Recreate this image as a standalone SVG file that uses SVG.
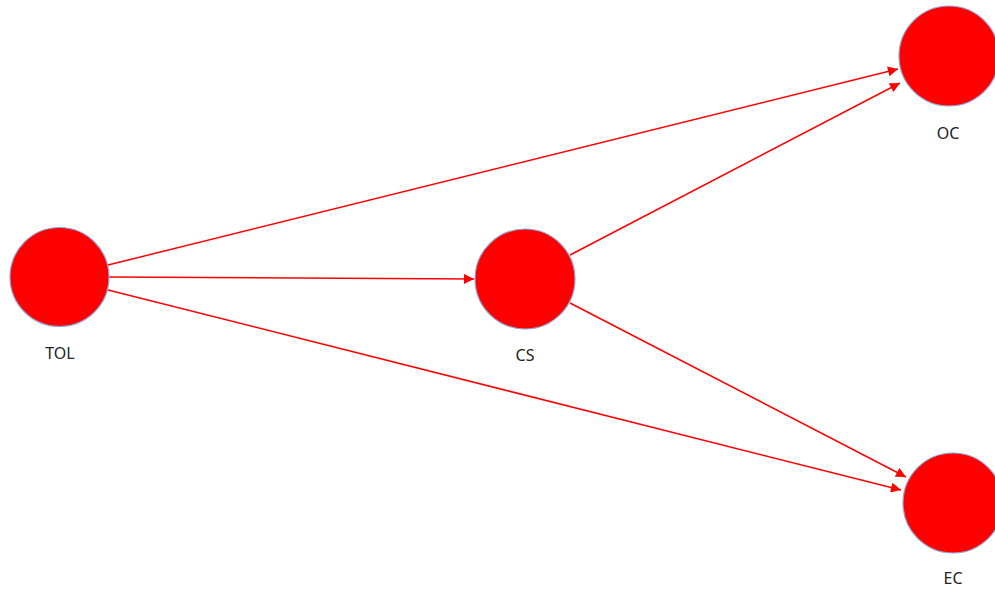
<svg xmlns="http://www.w3.org/2000/svg" width="995" height="590" viewBox="0 0 995 590">
<style>
.node{fill:#ff0000;stroke:#8ea6d6;stroke-width:1.2}
.lbl{font-family:"Noto Sans","Open Sans","Liberation Sans",sans-serif;font-size:16px;fill:#222;text-anchor:middle}
.edge{stroke:#ff0000;stroke-width:1.5;fill:none;marker-end:url(#arr)}
</style>
<defs>
<marker id="arr" viewBox="0 0 10 10" refX="10" refY="5" markerWidth="11" markerHeight="10" markerUnits="userSpaceOnUse" orient="auto">
<path d="M0,0 L10,5 L0,10 z" fill="#ff0000"/>
</marker>
</defs>
<rect width="995" height="590" fill="#ffffff"/>
<g id="connectors">
<line class="edge" x1="108" y1="265" x2="898" y2="69"/>
<line class="edge" x1="109" y1="277" x2="474" y2="279"/>
<line class="edge" x1="108" y1="290" x2="901" y2="490"/>
<line class="edge" x1="570" y1="255" x2="900" y2="83"/>
<line class="edge" x1="570" y1="303" x2="906" y2="477"/>
</g>
<g id="TOL"><circle class="node" cx="59.5" cy="277" r="49.5"/><text class="lbl" x="60" y="359">TOL</text></g>
<g id="CS"><circle class="node" cx="525" cy="279" r="50"/><text class="lbl" x="525" y="361">CS</text></g>
<g id="OC"><circle class="node" cx="949" cy="56" r="50"/><text class="lbl" x="948" y="139">OC</text></g>
<g id="EC"><circle class="node" cx="953" cy="503" r="50"/><text class="lbl" x="953" y="584">EC</text></g>
</svg>
